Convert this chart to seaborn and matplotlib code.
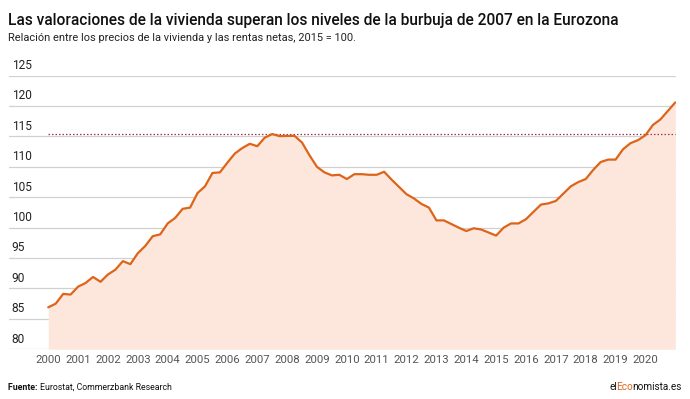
import numpy as np
import pandas as pd
import matplotlib
matplotlib.use("Agg")
import matplotlib.pyplot as plt
import seaborn as sns

# quarterly ratio house prices / net rents, 2015 = 100 (2000Q1 .. 2021Q1)
quarters = pd.period_range("2000Q1", "2021Q1", freq="Q")
ratio = [
    86.9, 87.5, 89.1, 89.0, 90.3, 90.9, 91.9, 91.1,
    92.3, 93.1, 94.5, 94.0, 95.8, 97.0, 98.6, 98.9,
    100.7, 101.6, 103.1, 103.3, 105.7, 106.8, 109.0, 109.1,
    110.7, 112.2, 113.1, 113.8, 113.4, 114.8, 115.4, 115.05,
    115.1, 115.1, 114.0, 111.9, 110.0, 109.1, 108.6, 108.7,
    108.0, 108.8, 108.8, 108.7, 108.7, 109.2, 107.9, 106.7,
    105.5, 104.8, 103.9, 103.3, 101.2, 101.2, 100.6, 100.0,
    99.45, 99.9, 99.7, 99.2, 98.7, 100.0, 100.7, 100.7,
    101.4, 102.6, 103.8, 104.0, 104.4, 105.6, 106.8, 107.5,
    108.0, 109.5, 110.8, 111.2, 111.2, 112.9, 113.9, 114.4,
    115.2, 116.9, 117.8, 119.2, 120.6,
]
peak_2007 = 115.4
y_ticks = [80, 85, 90, 95, 100, 105, 110, 115, 120, 125]
x_years = list(range(2000, 2021))

df = pd.DataFrame({
    "t": quarters.year + (quarters.quarter - 1) / 4,
    "ratio": ratio,
})

sns.set_style("white")
plt.rcParams["font.family"] = ["Roboto", "DejaVu Sans"]

orange = "#dd6419"
fill_col = "#fde7dd"
grid_col = "#d0d0d0"

fig = plt.figure(figsize=(6.9, 3.99), dpi=100)
ax = fig.add_axes([0.013, 0.1246, 0.967, 0.6857])

ax.fill_between(df["t"], df["ratio"], 80, color=fill_col, lw=0, zorder=1)
sns.lineplot(data=df, x="t", y="ratio", color=orange, lw=1.6, ax=ax, zorder=3)
ax.hlines(peak_2007, df["t"].iloc[0], df["t"].iloc[-1], colors="#a3334f",
          linestyles=(0, (1.2, 1.6)), lw=0.9, zorder=2)

for v in y_ticks:
    ax.axhline(v, color=grid_col, lw=0.9, zorder=0.5)
    ax.text(0.004, v + 0.6, str(v), transform=ax.get_yaxis_transform(),
            ha="left", va="bottom", fontsize=8.6, color="#222222")

ax.set_xlim(1998.685, 2021.03)
ax.set_ylim(80, 125)
ax.set_yticks([])
ax.set_xticks(x_years)
ax.set_xticklabels([str(y) for y in x_years], fontsize=8.2, color="#555555")
ax.tick_params(axis="x", length=0, pad=4)
ax.set_xlabel("")
ax.set_ylabel("")
for s in ax.spines.values():
    s.set_visible(False)

fig.text(0.012, 0.948, "Las valoraciones de la vivienda superan los niveles de la burbuja de 2007 en la Eurozona",
         fontsize=11.2, fontweight="medium", color="#111111", va="center", ha="left")
fig.text(0.012, 0.905, "Relación entre los precios de la vivienda y las rentas netas, 2015 = 100.",
         fontsize=7.9, color="#222222", va="center", ha="left")

src = fig.text(0.012, 0.023, "Fuente: ", fontsize=6.3, fontweight="bold", color="#111111", va="baseline")
ax.annotate("Eurostat, Commerzbank Research", xy=(1, 0), xycoords=src,
            fontsize=6.3, color="#111111", va="bottom", ha="left", annotation_clip=False)

# brand mark with "Eco" in orange
brand_fs = 7.2
renderer = fig.canvas.get_renderer()


def width_px(s):
    t = fig.text(0, 0, s, fontsize=brand_fs)
    w = t.get_window_extent(renderer).width
    t.remove()
    return w


full = width_px("elEconomista.es")
tighten = 1.5  # measured extents leave a visible gap after "el"
off_eco = width_px("elEco") - width_px("Eco") - tighten
off_rest = full - width_px("nomista.es") - tighten
left_px = 682 - full + tighten
for s, off, c in [("el", 0, "#111111"), ("Eco", off_eco, orange), ("nomista.es", off_rest, "#111111")]:
    fig.text((left_px + off) / fig.bbox.width, 0.023, s, fontsize=brand_fs, color=c,
             va="baseline", ha="left")

fig.savefig("out.png", dpi=100)
